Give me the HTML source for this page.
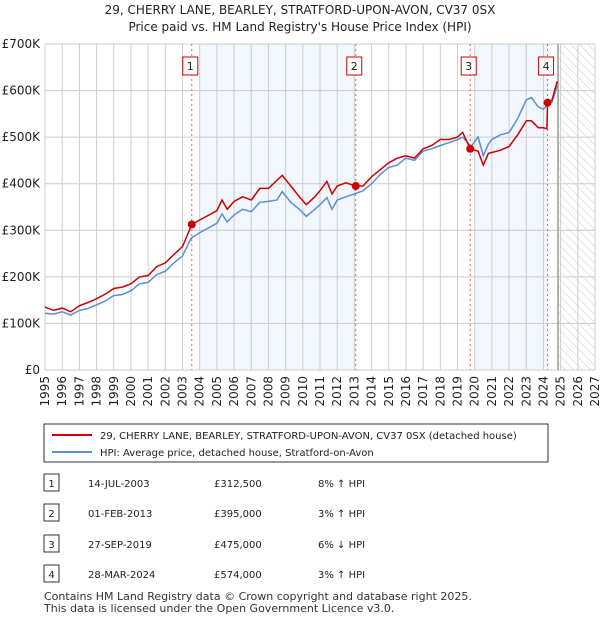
<!DOCTYPE html>
<html><head><meta charset="utf-8"><style>
body{margin:0;background:#fff;font-family:"DejaVu Sans","Liberation Sans",sans-serif;}
svg text{font-family:"DejaVu Sans","Liberation Sans",sans-serif;}
</style></head><body>
<svg width="600" height="620" viewBox="0 0 600 620" id="c">
<text x="300" y="14" text-anchor="middle" font-size="12" fill="#222">29, CHERRY LANE, BEARLEY, STRATFORD-UPON-AVON, CV37 0SX</text>
<text x="300" y="31" text-anchor="middle" font-size="12" fill="#222">Price paid vs. HM Land Registry's House Price Index (HPI)</text>
<defs><pattern id="hatch" width="6" height="6" patternUnits="userSpaceOnUse" patternTransform="rotate(-45)"><line x1="0" y1="0" x2="0" y2="6" stroke="#ccc" stroke-width="1"/></pattern></defs>
<g id="plot"></g>
<rect x="44" y="424" width="504" height="38" fill="#fff" stroke="#333"/>
<line x1="52" y1="435" x2="92" y2="435" stroke="#cc0000" stroke-width="2"/>
<text x="100" y="439" font-size="10" fill="#222">29, CHERRY LANE, BEARLEY, STRATFORD-UPON-AVON, CV37 0SX (detached house)</text>
<line x1="52" y1="452" x2="92" y2="452" stroke="#5b8fd4" stroke-width="2"/>
<text x="100" y="456" font-size="10" fill="#222">HPI: Average price, detached house, Stratford-on-Avon</text>
<g id="table" font-size="10" fill="#222"></g>
<text x="44" y="600" font-size="11" fill="#333">Contains HM Land Registry data © Crown copyright and database right 2025.</text>
<text x="44" y="612" font-size="11" fill="#333">This data is licensed under the Open Government Licence v3.0.</text>
</svg>
<script>
const hpiYears=[1995.0,1995.5,1996.0,1996.5,1997.0,1997.5,1998.0,1998.5,1999.0,1999.5,2000.0,2000.5,2001.0,2001.5,2002.0,2002.5,2003.0,2003.5,2004.0,2004.5,2005.0,2005.3,2005.6,2006.0,2006.5,2007.0,2007.5,2008.0,2008.5,2008.8,2009.3,2009.8,2010.2,2010.7,2011.0,2011.4,2011.7,2012.0,2012.5,2013.0,2013.5,2014.0,2014.5,2015.0,2015.5,2016.0,2016.5,2017.0,2017.5,2018.0,2018.5,2019.0,2019.3,2019.8,2020.2,2020.5,2020.8,2021.0,2021.5,2022.0,2022.5,2023.0,2023.3,2023.7,2024.0,2024.3,2024.5,2024.8];
const hpiValues=[122,120,125,118,128,132,140,148,160,162,170,185,188,205,212,230,245,283,295,305,315,335,318,333,345,340,360,362,365,383,360,345,330,345,355,370,345,365,372,378,385,400,420,435,440,455,450,470,475,482,488,495,500,480,500,460,485,495,505,510,540,580,585,565,560,572,575,610];
const priceYears=[1995.0,1995.5,1996.0,1996.5,1997.0,1997.5,1998.0,1998.5,1999.0,1999.5,2000.0,2000.5,2001.0,2001.5,2002.0,2002.5,2003.0,2003.54,2004.0,2004.5,2005.0,2005.3,2005.6,2006.0,2006.5,2007.0,2007.5,2008.0,2008.8,2009.3,2009.8,2010.2,2010.7,2011.0,2011.4,2011.7,2012.0,2012.5,2013.08,2013.5,2014.0,2014.5,2015.0,2015.5,2016.0,2016.5,2017.0,2017.5,2018.0,2018.5,2019.0,2019.3,2019.74,2020.2,2020.5,2020.8,2021.0,2021.5,2022.0,2022.5,2023.0,2023.3,2023.7,2024.0,2024.2,2024.24,2024.5,2024.8];
const priceValues=[135,128,133,125,138,145,153,163,175,178,185,200,203,222,230,248,265,312.5,322,332,342,365,345,362,372,365,390,390,418,395,372,355,372,385,405,378,395,402,395,395,415,430,445,455,460,455,475,482,495,495,500,510,475,470,440,465,467,472,480,505,535,535,520,520,518,574,580,620];
const saleYears=[2003.54,2013.08,2019.74,2024.24];
const salePrices=[312.5,395,475,574];
const saleLabels=["1","2","3","4"];
const saleDates=["14-JUL-2003","01-FEB-2013","27-SEP-2019","28-MAR-2024"];
const salePriceText=["£312,500","£395,000","£475,000","£574,000"];
const saleHpiText=["8% ↑ HPI","3% ↑ HPI","6% ↓ HPI","3% ↑ HPI"];
const yTicks=[0,100,200,300,400,500,600,700];
const yTickLabels=["£0","£100K","£200K","£300K","£400K","£500K","£600K","£700K"];
const xTicks=[1995,1996,1997,1998,1999,2000,2001,2002,2003,2004,2005,2006,2007,2008,2009,2010,2011,2012,2013,2014,2015,2016,2017,2018,2019,2020,2021,2022,2023,2024,2025,2026,2027];

const L=45,R=595,T=44,B=370;
const x=y=>L+(y-1995)*(R-L)/32;
const yv=v=>B-v*(B-T)/700;
const NS="http://www.w3.org/2000/svg";
const g=document.getElementById('plot');
function mk(tag,attrs,parent){const e=document.createElementNS(NS,tag);for(const k in attrs)e.setAttribute(k,attrs[k]);(parent||g).appendChild(e);return e;}
let e;
e=mk('rect',{x:x(2004.0),y:T,width:x(saleYears[1])-x(2004.0),height:B-T,fill:'#f2f6fd'});


e=mk('rect',{x:x(2020.0),y:T,width:x(saleYears[3])-x(2020.0),height:B-T,fill:'#f2f6fd'});


e=mk('rect',{x:x(2024.9),y:T,width:R-x(2024.9),height:B-T,fill:'url(#hatch)'});


xTicks.forEach(t=>{
 e=mk('line',{x1:x(t),x2:x(t),y1:T,y2:B,stroke:'#ccc','stroke-width':1});
 
 
 e=mk('text',{x:0,y:0,'font-size':12,fill:'#222','text-anchor':'end',transform:`translate(${x(t)+4},${B+6}) rotate(-90)`});
 e.textContent=t;
 
 
});
yTicks.forEach((t,i)=>{
 e=mk('line',{x1:L,x2:R,y1:yv(t),y2:yv(t),stroke:'#ccc','stroke-width':1});
 
 
 e=mk('text',{x:L-5,y:yv(t)+4,'font-size':12,fill:'#222','text-anchor':'end'});
 e.textContent=yTickLabels[i];
 
 
});
e=mk('line',{x1:x(2024.85),x2:x(2024.85),y1:T,y2:B,stroke:'#999','stroke-width':1.5});


saleYears.forEach((s,i)=>{
 e=mk('line',{x1:x(s),x2:x(s),y1:T,y2:B,stroke:'#e06060','stroke-width':1,'stroke-dasharray':'2,3'});
 
 
 e=mk('rect',{x:x(s)-9,y:57,width:15,height:18,fill:'#fff',stroke:'#cc0000'});
 
 
 e=mk('text',{x:x(s)-1.5,y:70,'font-size':11,fill:'#222','text-anchor':'middle'});
 e.textContent=saleLabels[i];
 
 
});
function path(xs,vs){return xs.map((t,i)=>(i?'L':'M')+x(t).toFixed(1)+','+yv(vs[i]).toFixed(1)).join('');}
e=mk('path',{d:path(hpiYears,hpiValues),fill:'none',stroke:'#5b8fd4','stroke-width':1.5});


e=mk('path',{d:path(priceYears,priceValues),fill:'none',stroke:'#cc0000','stroke-width':1.5});


saleYears.forEach((s,i)=>{
 e=mk('circle',{cx:x(s),cy:yv(salePrices[i]),r:4,fill:'#cc0000'});
 
 
});
const tb=document.getElementById('table');
const rowY=[483,513,544,574];
saleLabels.forEach((l,i)=>{
 const y0=rowY[i];
 e=mk('rect',{x:44,y:y0-9,width:15,height:17,fill:'#fff',stroke:'#333'},tb);
 
 
 e=mk('text',{x:51.5,y:y0+4,'text-anchor':'middle'},tb);e.textContent=l;
 
 
 e=mk('text',{x:88,y:y0+4},tb);e.textContent=saleDates[i];
 
 
 e=mk('text',{x:214,y:y0+4},tb);e.textContent=salePriceText[i];
 
 
 e=mk('text',{x:318,y:y0+4},tb);e.textContent=saleHpiText[i];
 
 
});
</script>
</body></html>
